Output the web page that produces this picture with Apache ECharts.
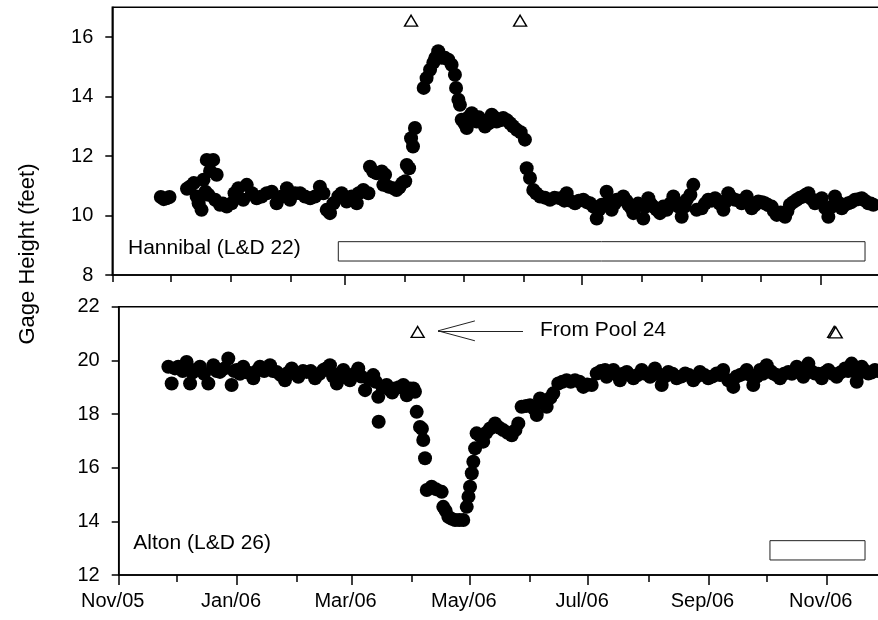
<!DOCTYPE html>
<html><head><meta charset="utf-8">
<script src="https://cdn.jsdelivr.net/npm/echarts@6/dist/echarts.min.js"></script>
<style>html,body{margin:0;padding:0;background:#fff}#c{width:878px;height:620px}</style>
</head><body><div id="c"></div>
<script>
// ---- data (x = days since 2005-11-01) ----
const ORIGIN = '2005-11-01';
const monthTickDates = ['2005-11-01','2005-12-01','2006-01-01','2006-02-01','2006-03-01','2006-04-01','2006-05-01','2006-06-01','2006-07-01','2006-08-01','2006-09-01','2006-10-01','2006-11-01'];
const labelDates = ['2005-11-01','2006-01-01','2006-03-01','2006-05-01','2006-07-01','2006-09-01','2006-11-01'];
const tickLabels = ['Nov/05','Jan/06','Mar/06','May/06','Jul/06','Sep/06','Nov/06'];
const hannibalLongTickDates = ['2006-03-01','2006-07-01','2006-11-01'];
const hannibalYTicks = [8,10,12,14,16];
const altonYTicks = [12,14,16,18,20,22];

const hannibalDay = [25,26.5,28,29.5,38.5,40,42,43.5,44.5,46,47,48,48.7,49.5,50.4,52,53,53.8,55.5,57,59,61.5,63,65,67.5,69.3,72,74.4,77,79.6,82.2,84.7,87.3,90,91.6,94.2,96.8,99.3,102,104.5,107,108.8,110.5,112.2,114,116.5,118.2,120.8,123.4,126,127,129.4,132,132.8,134.5,136.3,138.9,139.7,140.6,142.3,144.8,146.5,148,149.5,151,151.8,153,154,155,156,160.5,162,163.8,165.5,166.5,168,169.8,171.5,173.2,174.9,176.6,177.2,178.4,179.2,180.1,181.5,182.7,183.5,185.3,186.5,187.8,189,190.5,192.1,194,195.6,197,198.1,200,201.5,203.5,205,206.5,208.5,210.5,212.7,213.6,215.3,217,218.5,220.5,223,225.6,228,230.8,233,234.2,236,238.5,240.5,242.8,244.5,246.2,248,249.7,251,252.3,254.8,256,257.4,259,260,262,263.4,265,266,267.5,268.6,270,271,273.7,275,276.3,277.5,278.9,280.5,282.3,284,285.8,287.5,289.2,290.5,291.8,293.5,295,296.1,298,299.5,301.2,303.8,305.5,307.2,309,310.7,312,313,315,316,317.5,319,321,323,324.4,326,327,328.3,329.6,331.3,333,335,336.4,338,339.9,341,342.5,344.5,346.8,348,349.3,351,352.8,354.5,356.2,357.5,358.8,360.5,362.2,364,365.7,367.5,369.1,371,372.5,374,376,377.5,379.4,381,382.8,384.5,386.3,388,389.7,391,392.3];
const hannibalGage = [10.62,10.55,10.58,10.62,10.9,10.97,11.09,10.64,10.41,10.19,11.2,10.8,11.87,10.7,11.5,11.87,10.53,11.37,10.36,10.4,10.3,10.41,10.75,10.92,10.53,11.03,10.75,10.58,10.64,10.75,10.8,10.41,10.64,10.92,10.53,10.75,10.75,10.64,10.58,10.64,10.97,10.75,10.19,10.08,10.41,10.64,10.75,10.47,10.64,10.41,10.75,10.86,10.75,11.64,11.48,11.42,11.48,11.03,11.37,10.97,10.92,10.86,10.95,11.09,11.15,11.7,11.59,12.6,12.32,12.94,14.29,14.62,14.9,15.14,15.3,15.52,15.3,15.3,15.24,15.07,14.73,14.29,13.89,13.72,13.22,13.1,12.94,13.3,13.44,13.2,13.16,13.3,13.15,12.99,13.1,13.39,13.3,13.16,13.2,13.28,13.2,13.1,13.0,12.88,12.8,12.55,11.59,11.26,10.86,10.75,10.64,10.6,10.53,10.6,10.58,10.5,10.75,10.5,10.41,10.5,10.53,10.45,10.41,10.3,9.9,10.2,10.36,10.8,10.5,10.19,10.4,10.53,10.55,10.64,10.5,10.36,10.25,10.08,10.3,10.4,9.9,10.3,10.58,10.4,10.3,10.2,10.08,10.3,10.19,10.4,10.64,10.45,10.3,9.96,10.3,10.53,10.7,11.03,10.19,10.24,10.4,10.53,10.5,10.58,10.5,10.4,10.19,10.45,10.75,10.6,10.53,10.5,10.41,10.5,10.64,10.4,10.24,10.35,10.47,10.45,10.41,10.35,10.3,10.15,10.02,10.1,9.96,10.15,10.36,10.45,10.53,10.6,10.64,10.7,10.75,10.55,10.41,10.5,10.58,10.25,9.96,10.3,10.64,10.45,10.24,10.35,10.41,10.45,10.53,10.55,10.58,10.5,10.41,10.4,10.36];

const altonDay = [25.6,27.3,29,30.7,33,35,36.8,38,39.3,41.9,44,46.2,48.8,50.5,52.2,54.5,56.5,58.2,59.5,60.8,62.5,64.2,66.5,69.4,71,72.8,75,78,79.5,81.4,83.5,85.7,87.5,89.2,91,92.6,95,96.9,99,101.2,103.5,105.5,107,108.9,110.5,112.4,114,115.8,117.5,119.2,121.5,123.5,125,127,129,131.2,132.5,133.8,134,136,138.1,139.8,141,142.4,144.5,146.7,148.5,150.2,151.9,152.7,153.6,155.3,156.3,157,157.9,158.8,161.3,163.5,166.5,167.3,168.5,169.9,171.5,173.4,175.5,177.6,179.4,180.3,181.1,182,182.8,183.7,184.5,186,187.9,189.5,191.4,194,196,198.2,200.5,202.6,204.5,206,207.7,210,212,214,215.5,217.2,219,220.6,222.5,224,226.6,228.7,230.9,233,235.2,237.5,239.5,241.5,243.8,246.4,248.5,250.7,251.5,253,255,257,258.4,260,261.9,263.5,265.3,267.5,269.6,271.5,273.9,275,276.4,278,279.9,281.5,283.3,285.5,287.6,290,292,294,296.2,298,299.6,302,303.9,306,308.2,310,311.6,314.2,316.8,318.5,320.3,322,323.7,325.5,327.1,329,330.6,332,334,336,337.4,339,340.9,343,345.2,347,349.5,351,352.9,355.5,357,358.9,360.5,362.4,364,365.8,368,370.1,372,374.4,376,377.8,379,380.4,382,383,385,386.4,388,389.8,391.5];
const altonGage = [19.76,19.14,19.7,19.76,19.6,19.94,19.14,19.55,19.64,19.76,19.5,19.14,19.82,19.6,19.57,19.7,20.07,19.08,19.6,19.64,19.5,19.76,19.55,19.33,19.6,19.76,19.6,19.82,19.6,19.57,19.45,19.26,19.55,19.7,19.5,19.39,19.6,19.57,19.6,19.33,19.5,19.64,19.7,19.82,19.4,19.14,19.5,19.64,19.35,19.26,19.5,19.7,19.4,18.89,19.3,19.45,19.2,18.64,17.71,19.0,19.08,18.89,18.8,18.95,19.0,19.08,18.7,18.95,18.95,18.83,18.08,17.52,17.45,17.03,16.35,15.17,15.29,15.2,15.1,14.54,14.4,14.17,14.1,14.05,14.05,14.05,14.54,14.92,15.29,15.79,16.22,16.72,17.28,17.21,16.97,17.3,17.46,17.65,17.5,17.4,17.3,17.21,17.4,17.65,18.27,18.3,18.33,18.2,17.96,18.58,18.4,18.27,18.6,18.77,19.14,19.2,19.26,19.2,19.26,19.2,19.01,19.1,19.08,19.51,19.6,19.64,19.39,19.5,19.64,19.45,19.26,19.5,19.57,19.45,19.33,19.45,19.64,19.5,19.39,19.45,19.7,19.5,19.08,19.4,19.57,19.5,19.33,19.4,19.51,19.45,19.26,19.4,19.57,19.45,19.33,19.4,19.51,19.45,19.64,19.26,19.01,19.4,19.45,19.5,19.64,19.45,19.08,19.4,19.64,19.5,19.82,19.6,19.51,19.45,19.33,19.5,19.57,19.5,19.76,19.6,19.39,19.88,19.6,19.51,19.5,19.33,19.55,19.64,19.5,19.39,19.55,19.7,19.6,19.88,19.6,19.2,19.55,19.76,19.6,19.51,19.55,19.64,19.6];

// open triangles (event markers)
const hannibalEventDay = [154, 210.2];
const hannibalEventGage = [16.55, 16.55];
const altonEventDay = [154.1, 368.8, 369.6];
const altonEventGage = [21.06, 21.06, 21.04];
// arrow "From Pool 24": tail and tip
const arrowDay = [208.4, 164.6];
const arrowGage = [21.1, 21.1];
const arrowHeadLen = 19;   // days
const arrowHeadHalf = 0.37; // feet
// period boxes
const hannibalBoxDay = [116.5, 388];
const hannibalBoxGage = [8.47, 9.12];
const altonBoxDay = [335.7, 384.7];
const altonBoxGage = [12.56, 13.28];

// ---- helpers ----
const toDay = s => Math.round((Date.parse(s) - Date.parse(ORIGIN)) / 864e5);
const monthDays = monthTickDates.map(toDay);
const labelDays = labelDates.map(toDay);
const hannibalLongDays = hannibalLongTickDates.map(toDay);
const zip = (a, b) => a.map((v, i) => [v, b[i]]);

const FONT = '"Liberation Sans", Arial, sans-serif';
const AX = { color: '#000', width: 1.5 };
const XMAX = 400;

function xBase(grid, extra) {
  return Object.assign({
    type: 'value', gridIndex: grid, min: 0, max: XMAX, position: 'bottom', offset: 0,
    splitLine: { show: false },
    axisLine: { show: true, onZero: false, lineStyle: AX },
    axisLabel: { show: false },
  }, extra);
}
const gridBase = { width: 776, show: true, borderColor: '#000', borderWidth: 1.5, backgroundColor: 'transparent', containLabel: false, outerBoundsMode: 'none' };

const option = {
  animation: false,
  backgroundColor: '#fff',
  textStyle: { fontFamily: FONT },
  grid: [
    Object.assign({ left: 112.3, top: 7.3, height: 267.7 }, gridBase),
    Object.assign({ left: 118.7, top: 306.7, height: 268.3 }, gridBase)
  ],
  xAxis: [
    xBase(0, { axisTick: { show: true, customValues: monthDays, length: 7, lineStyle: AX } }),
    xBase(0, { axisLine: { show: false }, axisTick: { show: true, customValues: hannibalLongDays, length: 10, lineStyle: AX } }),
    xBase(1, {
      axisTick: { show: true, customValues: monthDays, length: 7, lineStyle: AX },
      axisLabel: {
        show: true, customValues: labelDays, color: '#000', fontSize: 20, fontFamily: FONT,
        margin: 16, padding: [0, 12, 0, 0],
        formatter: v => tickLabels[labelDays.indexOf(Math.round(v))] || ''
      }
    }),
    xBase(1, { axisLine: { show: false }, axisTick: { show: true, customValues: labelDays, length: 10, lineStyle: AX } })
  ],
  yAxis: [
    {
      type: 'value', gridIndex: 0, min: 8, max: 17,
      splitLine: { show: false },
      axisLine: { show: true, lineStyle: AX },
      axisTick: { show: true, customValues: hannibalYTicks, length: 7, lineStyle: AX },
      axisLabel: { customValues: hannibalYTicks, color: '#000', fontSize: 20, fontFamily: FONT, margin: 19 }
    },
    {
      type: 'value', gridIndex: 1, min: 12, max: 22,
      splitLine: { show: false },
      axisLine: { show: true, lineStyle: AX },
      axisTick: { show: true, customValues: altonYTicks, length: 7, lineStyle: AX },
      axisLabel: { customValues: altonYTicks, color: '#000', fontSize: 20, fontFamily: FONT, margin: 19 }
    }
  ],
  series: [
    {
      name: 'Hannibal', type: 'scatter', xAxisIndex: 0, yAxisIndex: 0,
      symbol: 'circle', symbolSize: 14, itemStyle: { color: '#000', opacity: 1 },
      data: zip(hannibalDay, hannibalGage), silent: true,
      markArea: {
        silent: true,
        itemStyle: { color: '#fff', borderColor: '#222', borderWidth: 1, opacity: 1 },
        data: [[{ coord: [hannibalBoxDay[0], hannibalBoxGage[1]] }, { coord: [hannibalBoxDay[1], hannibalBoxGage[0]] }]]
      }
    },
    {
      name: 'HannibalEvents', type: 'scatter', xAxisIndex: 0, yAxisIndex: 0,
      symbol: 'triangle', symbolSize: [13, 11], silent: true,
      itemStyle: { color: '#fff', borderColor: '#000', borderWidth: 1.4, opacity: 1 },
      data: zip(hannibalEventDay, hannibalEventGage)
    },
    {
      name: 'Alton', type: 'scatter', xAxisIndex: 2, yAxisIndex: 1,
      symbol: 'circle', symbolSize: 14, itemStyle: { color: '#000', opacity: 1 },
      data: zip(altonDay, altonGage), silent: true,
      markArea: {
        silent: true,
        itemStyle: { color: '#fff', borderColor: '#222', borderWidth: 1, opacity: 1 },
        data: [[{ coord: [altonBoxDay[0], altonBoxGage[1]] }, { coord: [altonBoxDay[1], altonBoxGage[0]] }]]
      }
    },
    {
      name: 'AltonEvents', type: 'scatter', xAxisIndex: 2, yAxisIndex: 1,
      symbol: 'triangle', symbolSize: [13, 11], silent: true,
      itemStyle: { color: '#fff', borderColor: '#000', borderWidth: 1.4, opacity: 1 },
      data: zip(altonEventDay, altonEventGage),
      markLine: {
        silent: true, symbol: ['none', 'none'], label: { show: false },
        lineStyle: { type: 'solid', color: '#222', width: 1 },
        emphasis: { disabled: true },
        data: [
          [{ coord: [arrowDay[0], arrowGage[0]] }, { coord: [arrowDay[1], arrowGage[1]] }],
          [{ coord: [arrowDay[1], arrowGage[1]] }, { coord: [arrowDay[1] + arrowHeadLen, arrowGage[1] + arrowHeadHalf] }],
          [{ coord: [arrowDay[1], arrowGage[1]] }, { coord: [arrowDay[1] + arrowHeadLen, arrowGage[1] - arrowHeadHalf] }]
        ]
      }
    }
  ],
  graphic: [
    { type: 'text', x: 28, y: 254, rotation: Math.PI / 2,
      style: { text: 'Gage Height (feet)', font: '22px ' + FONT, fill: '#000', align: 'center', verticalAlign: 'middle' } },
    { type: 'text', x: 128, y: 248,
      style: { text: 'Hannibal (L&D 22)', font: '21px ' + FONT, fill: '#000', align: 'left', verticalAlign: 'middle' } },
    { type: 'text', x: 133.3, y: 543,
      style: { text: 'Alton (L&D 26)', font: '21px ' + FONT, fill: '#000', align: 'left', verticalAlign: 'middle' } },
    { type: 'text', x: 540, y: 330,
      style: { text: 'From Pool 24', font: '21px ' + FONT, fill: '#000', align: 'left', verticalAlign: 'middle' } }
  ]
};

const chart = echarts.init(document.getElementById('c'), null, { renderer: 'canvas' });
chart.setOption(option);
</script>
</body></html>
